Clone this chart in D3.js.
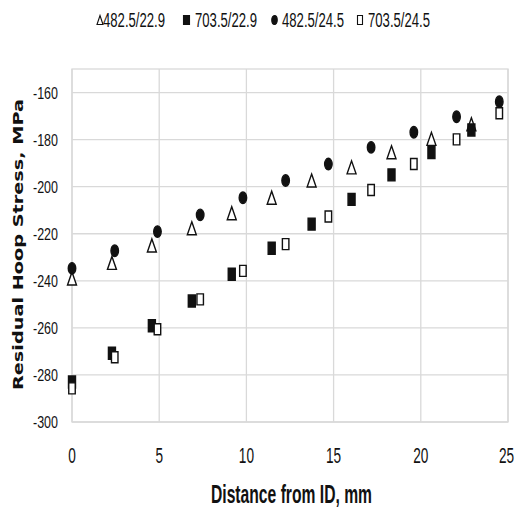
<!DOCTYPE html>
<html><head><meta charset="utf-8">
<script src="https://cdn.jsdelivr.net/npm/d3@7"></script>
<style>body{margin:0;background:#fff}svg{display:block}</style>
</head><body>
<script>
// Data
const seriesNames = ["482.5/22.9", "703.5/22.9", "482.5/24.5", "703.5/24.5"];
const xA = [0, 2.29, 4.58, 6.87, 9.16, 11.45, 13.74, 16.03, 18.32, 20.61, 22.9];
const xB = [0, 2.45, 4.9, 7.35, 9.8, 12.25, 14.7, 17.15, 19.6, 22.05, 24.5];
const tri4825_229 = [-239, -232.4, -225, -217.7, -211.3, -204.7, -197.4, -191.8, -185.4, -179.7, -173.5];
const sq7035_229  = [-283, -270.8, -259.1, -248.6, -237.2, -226.2, -215.9, -205.4, -195.0, -185.5, -175.9];
const dot4825_245 = [-234.7, -227.2, -219.1, -212.0, -204.7, -197.4, -190.4, -183.3, -176.9, -170.3, -163.9];
const osq7035_245 = [-285.7, -272.5, -260.6, -247.9, -235.8, -224.4, -212.7, -201.4, -190.4, -179.9, -168.8];
const xTicks = [0, 5, 10, 15, 20, 25];
const yTicks = [-300, -280, -260, -240, -220, -200, -180, -160];

const W = 517, H = 514;
const svg = d3.select("body").append("svg").attr("width", W).attr("height", H);
const x = d3.scaleLinear().domain([0, 25]).range([72, 508]);
const y = d3.scaleLinear().domain([-300, -150]).range([422, 69]);

// grid
const g = svg.append("g");
g.selectAll(".hg").data(yTicks).join("line")
  .attr("x1", x(0)).attr("x2", x(25)).attr("y1", d => y(d)).attr("y2", d => y(d))
  .attr("stroke", "#d9d9d9").attr("stroke-width", 1.3);
g.selectAll(".vg").data(xTicks).join("line")
  .attr("y1", y(-300)).attr("y2", y(-150)).attr("x1", d => x(d)).attr("x2", d => x(d))
  .attr("stroke", "#d9d9d9").attr("stroke-width", 1.3);
g.append("rect").attr("x", x(0)).attr("y", y(-150)).attr("width", x(25) - x(0)).attr("height", y(-300) - y(-150))
  .attr("fill", "none").attr("stroke", "#d9d9d9").attr("stroke-width", 1.3);

// axes labels
const fontN = "'Liberation Sans', Arial, sans-serif";
svg.selectAll(".yt").data(yTicks).join("text")
  .attr("x", 58).attr("y", d => y(d) + 6)
  .attr("text-anchor", "end").attr("font-family", fontN).attr("font-size", 16.5)
  .attr("textLength", 25).attr("lengthAdjust", "spacingAndGlyphs")
  .attr("fill", "#111").text(d => d);
svg.selectAll(".xt").data(xTicks).join("text")
  .attr("transform", d => `translate(${x(d)},463) scale(0.62,1)`)
  .attr("text-anchor", d => d === 25 ? "end" : "middle")
  .attr("x", d => d === 25 ? 10 : 0)
  .attr("font-family", fontN).attr("font-size", 22)
  .attr("fill", "#111").text(d => d);

// axis titles
svg.append("text").attr("x", 291.5).attr("y", 503).attr("text-anchor", "middle")
  .attr("font-family", fontN).attr("font-weight", "bold").attr("font-size", 25)
  .attr("textLength", 161).attr("lengthAdjust", "spacingAndGlyphs")
  .attr("fill", "#111").text("Distance from ID, mm");
svg.append("text").attr("transform", "translate(23,244.5) rotate(-90)").attr("text-anchor", "middle")
  .attr("font-family", "'DejaVu Sans', Verdana, sans-serif").attr("font-weight", "bold").attr("font-size", 14)
  .attr("textLength", 291).attr("lengthAdjust", "spacingAndGlyphs")
  .attr("fill", "#111").text("Residual Hoop Stress, MPa");

// marker shapes (w x h, stretched vertically like the reference)
function triPath(w, h) { return `M0,${-h/2}L${w/2},${h/2}L${-w/2},${h/2}Z`; }
function rectPath(w, h) { return `M${-w/2},${-h/2}h${w}v${h}h${-w}Z`; }
function ellPath(w, h) { return `M${-w/2},0a${w/2},${h/2} 0 1,0 ${w},0a${w/2},${h/2} 0 1,0 ${-w},0Z`; }

const series = [
  {xs: xA, ys: tri4825_229, d: triPath(9, 13), fill: "#fff", stroke: "#111"},
  {xs: xA, ys: sq7035_229, d: rectPath(7, 12), fill: "#111", stroke: "#111"},
  {xs: xB, ys: dot4825_245, d: ellPath(7.5, 11.5), fill: "#111", stroke: "#111"},
  {xs: xB, ys: osq7035_245, d: rectPath(6.5, 11), fill: "#fff", stroke: "#111"}
];
series.forEach(s => {
  svg.append("g").selectAll("path").data(s.ys).join("path")
    .attr("transform", (v, i) => `translate(${x(s.xs[i])},${y(v)})`)
    .attr("d", s.d).attr("fill", s.fill).attr("stroke", s.stroke).attr("stroke-width", 1.4);
});

// legend
const legX = [100, 186.5, 274.5, 360];
const legTX = [103, 195, 282, 368];
const lg = svg.append("g");
series.forEach((s, i) => {
  const sh = i === 0 ? triPath(6, 9) : i === 2 ? ellPath(5.5, 9) : rectPath(i === 1 ? 6 : 5, 9);
  lg.append("path").attr("transform", `translate(${legX[i]},${20})`).attr("d", sh)
    .attr("fill", s.fill).attr("stroke", s.stroke).attr("stroke-width", 1.1);
  lg.append("text").attr("x", legTX[i]).attr("y", 27).attr("font-family", fontN).attr("font-size", 19.5)
    .attr("textLength", 62).attr("lengthAdjust", "spacingAndGlyphs").attr("fill", "#111").text(seriesNames[i]);
});
</script>
</body></html>
